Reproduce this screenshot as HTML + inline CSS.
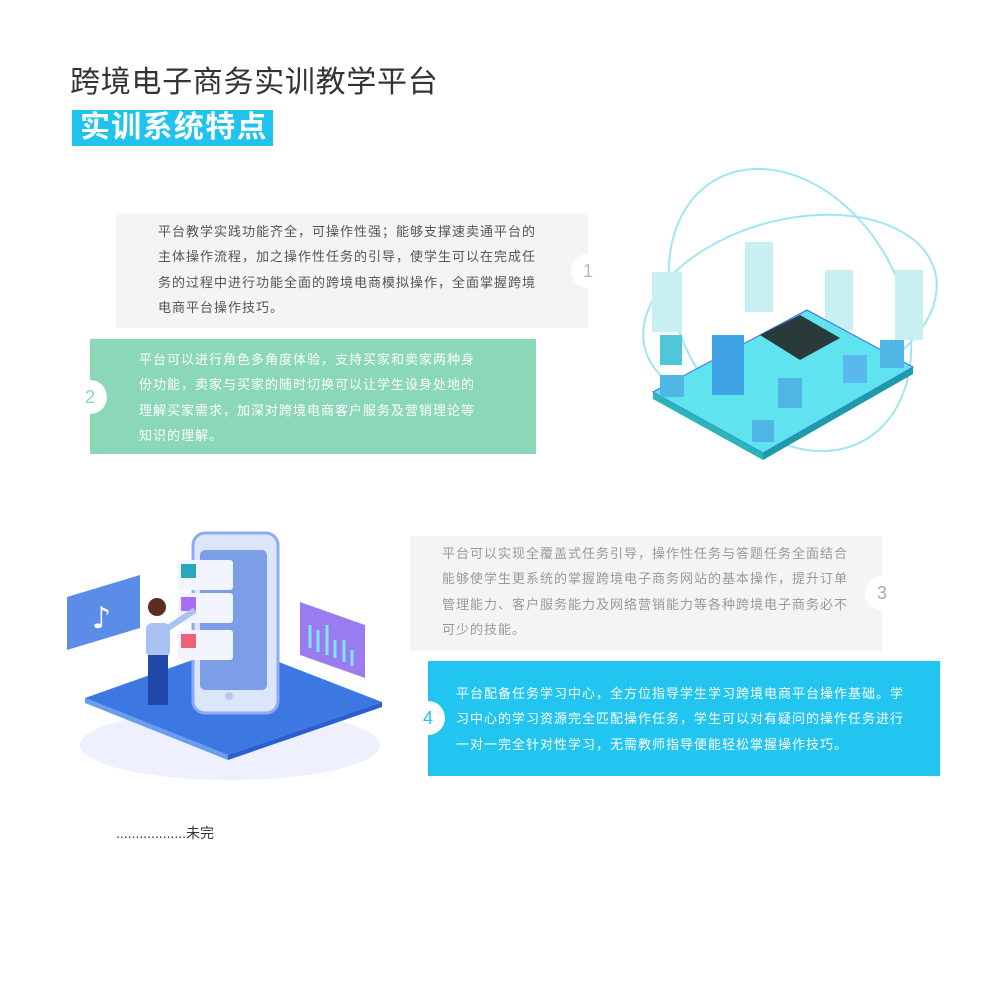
<!DOCTYPE html>
<html><head><meta charset="utf-8"><style>
body{margin:0;width:1000px;height:1000px;background:#fff;position:relative;overflow:hidden;font-family:"Liberation Sans","Noto Sans CJK SC",sans-serif}
.a{position:absolute}
.t{font-size:13px;line-height:25.3px;letter-spacing:1px;white-space:nowrap}
.c{position:absolute;width:34px;height:34px;border-radius:50%;background:#fff;font-size:18px;text-align:center;line-height:34px}
</style></head><body>
<div class="a" style="left:70px;top:63px;font-size:30px;letter-spacing:0.7px;color:#333;line-height:40px">跨境电子商务实训教学平台</div>
<div class="a" style="left:72px;top:110px;width:201px;height:36px;background:#1fc3ee"></div>
<div class="a" style="left:80px;top:108px;font-size:30px;letter-spacing:1.3px;color:#fff;line-height:40px;font-weight:bold">实训系统特点</div>

<div class="a" style="left:116px;top:213px;width:472px;height:115px;background:#f4f4f4"></div>
<div class="a t" style="left:158px;top:219px;color:#555">平台教学实践功能齐全，可操作性强；能够支撑速卖通平台的<br>主体操作流程，加之操作性任务的引导，使学生可以在完成任<br>务的过程中进行功能全面的跨境电商模拟操作，全面掌握跨境<br>电商平台操作技巧。</div>
<div class="c" style="left:571px;top:254px;color:#bbb">1</div>

<div class="a" style="left:90px;top:339px;width:446px;height:115px;background:#8bd8b9"></div>
<div class="a t" style="left:139px;top:347px;color:#fff">平台可以进行角色多角度体验，支持买家和卖家两种身<br>份功能，卖家与买家的随时切换可以让学生设身处地的<br>理解买家需求，加深对跨境电商客户服务及营销理论等<br>知识的理解。</div>
<div class="c" style="left:73px;top:380px;color:#8bd8b9">2</div>

<div class="a" style="left:410px;top:536px;width:472px;height:115px;background:#f4f4f4"></div>
<div class="a t" style="left:442px;top:541px;color:#999">平台可以实现全覆盖式任务引导，操作性任务与答题任务全面结合<br>能够使学生更系统的掌握跨境电子商务网站的基本操作，提升订单<br>管理能力、客户服务能力及网络营销能力等各种跨境电子商务必不<br>可少的技能。</div>
<div class="c" style="left:865px;top:576px;color:#aaa">3</div>

<div class="a" style="left:428px;top:661px;width:512px;height:115px;background:#21c5ef"></div>
<div class="a t" style="left:456px;top:681px;color:#fff;letter-spacing:1px">平台配备任务学习中心，全方位指导学生学习跨境电商平台操作基础。学<br>习中心的学习资源完全匹配操作任务，学生可以对有疑问的操作任务进行<br>一对一完全针对性学习，无需教师指导便能轻松掌握操作技巧。</div>
<div class="c" style="left:411px;top:701px;color:#21c5ef">4</div>

<div class="a" style="left:116px;top:823px;font-size:14px;color:#333">..................未完</div>

<svg class="a" style="left:0;top:0" width="1000" height="1000">
<ellipse cx="790" cy="310" rx="150" ry="90" fill="none" stroke="#9fe6f2" stroke-width="2" transform="rotate(-15 790 310)"/>
<ellipse cx="790" cy="310" rx="110" ry="150" fill="none" stroke="#9fe6f2" stroke-width="2" transform="rotate(-30 790 310)"/>
<rect x="652" y="272" width="30" height="60" fill="#c8f0f3"/><rect x="745" y="242" width="28" height="70" fill="#c8f0f3"/>
<rect x="825" y="270" width="28" height="60" fill="#c8f0f3"/><rect x="895" y="270" width="28" height="70" fill="#c8f0f3"/>
<polygon points="653,392 807,310 913,367 763,453" fill="#5fe3ee" stroke="#3a6ee8"/>
<polygon points="653,392 763,453 763,460 653,399" fill="#2bb5b8"/>
<polygon points="763,453 913,367 913,374 763,460" fill="#1e9aa8"/>
<polygon points="760,335 800,315 840,338 800,360" fill="#2a3a3a"/>
<rect x="712" y="335" width="32" height="60" fill="#3ea4e6"/>
<rect x="660" y="335" width="22" height="30" fill="#4fc7d6"/>
<rect x="778" y="378" width="24" height="30" fill="#4fb6e6"/>
<rect x="843" y="355" width="24" height="28" fill="#5ab8ee"/>
<rect x="880" y="340" width="24" height="28" fill="#4fb6e6"/>
<rect x="660" y="375" width="24" height="22" fill="#4fb6e6"/>
<rect x="752" y="420" width="22" height="22" fill="#4fb6e6"/>
<ellipse cx="230" cy="745" rx="150" ry="35" fill="#eef1fd"/>
<polygon points="85,698 235,645 382,702 228,755" fill="#3d78e2"/>
<polygon points="85,698 228,755 228,760 85,703" fill="#6a9cf0"/>
<polygon points="228,755 382,702 382,707 228,760" fill="#2a5fcf"/>
<rect x="193" y="533" width="85" height="180" rx="12" fill="#dbe6fb" stroke="#8eaaf0" stroke-width="3"/>
<rect x="200" y="550" width="67" height="140" rx="5" fill="#7b9ee6"/>
<circle cx="229" cy="696" r="4" fill="#b6c6f0"/>
<rect x="178" y="560" width="55" height="30" rx="3" fill="#f2f5fd"/><rect x="181" y="564" width="15" height="14" fill="#2aa8c2"/>
<rect x="178" y="593" width="55" height="30" rx="3" fill="#f2f5fd"/><rect x="181" y="597" width="15" height="14" fill="#a66ef0"/>
<rect x="178" y="630" width="55" height="30" rx="3" fill="#f2f5fd"/><rect x="181" y="634" width="15" height="14" fill="#f0607a"/>
<polygon points="67,597 140,575 140,628 67,650" fill="#5b8ce8"/>
<text x="92" y="628" font-size="30" fill="#fff" font-family="DejaVu Sans">♪</text>
<polygon points="300,602 365,625 365,678 300,655" fill="#9a7cf0"/>
<g stroke="#7fe6f6" stroke-width="3"><line x1="310" y1="625" x2="310" y2="648"/><line x1="318" y1="630" x2="318" y2="652"/><line x1="327" y1="625" x2="327" y2="655"/><line x1="335" y1="640" x2="335" y2="658"/><line x1="344" y1="640" x2="344" y2="662"/><line x1="352" y1="650" x2="352" y2="666"/></g>
<circle cx="157" cy="607" r="9" fill="#5a2e20"/>
<rect x="146" y="623" width="24" height="34" rx="6" fill="#a9c2f2"/>
<line x1="165" y1="630" x2="195" y2="610" stroke="#a9c2f2" stroke-width="6"/>
<rect x="148" y="655" width="20" height="50" fill="#1f48a8"/>
</svg>
</body></html>
